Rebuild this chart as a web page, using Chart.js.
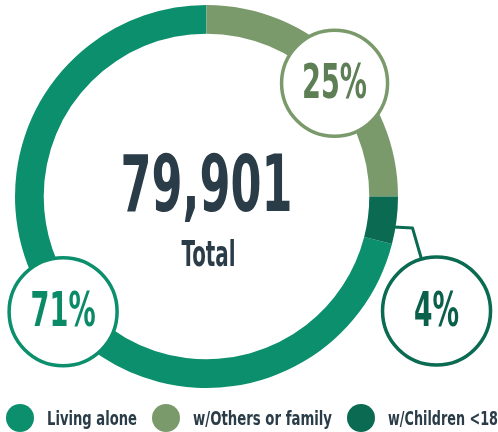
<!DOCTYPE html>
<html>
<head>
<meta charset="utf-8">
<script src="https://cdn.jsdelivr.net/npm/chart.js@4.4.1/dist/chart.umd.min.js"></script>
<style>
    html, body { margin: 0; padding: 0; background: #fff; }
    #wrap { width: 498px; height: 432px; }
</style>
</head>
<body>
<div id="wrap"><canvas id="chart" width="498" height="432"></canvas></div>
<script>
// household breakdown
const labels = ["Living alone", "w/Others or family", "w/Children <18"];
const shares = [71, 25, 4];
const totalPeople = 79901;
const totalLabel = "Total";

const ringColors = ["#0c8f6c", "#7b9a6b", "#0a6a52"];
const bubbleText = ["#0b8a68", "#5e7e55", "#0a604a"];
const INK = "#2a3c47";
const NARROW = "'Liberation Sans Narrow', 'DejaVu Sans Condensed', 'Roboto', sans-serif";

const sum = shares.reduce((a, b) => a + b, 0);

// bubble placement relative to each arc (angle nudge in degrees)
const bubbleSpec = [
    { dist: 184, nudge: -1, r: 54 },
    { dist: 171, nudge: 3.5, r: 53 },
    { leader: true, nudge: 2, r: 54 },
];

// legend text widths in the picture (the source font is very condensed)
const legendTextW = [90, 139, 110];

function condensedText(ctx, text, x, y, px, targetW) {
    ctx.font = `bold ${px}px ${NARROW}`;
    const w = ctx.measureText(text).width;
    const sx = Math.min(1, targetW / w);
    ctx.save();
    ctx.translate(x, y);
    ctx.scale(sx, 1);
    ctx.fillText(text, 0, 0);
    ctx.restore();
}

const bubbles = {
    id: "bubbles",
    afterDatasetsDraw(chart) {
        const ctx = chart.ctx;
        const arcs = chart.getDatasetMeta(0).data;
        arcs.forEach((arc, i) => {
            const p = arc.getProps(["x", "y", "startAngle", "endAngle", "outerRadius"], true);
            const spec = bubbleSpec[i];
            const mid = (p.startAngle + p.endAngle) / 2 + spec.nudge * Math.PI / 180;
            let cx, cy;
            ctx.save();
            if (spec.leader) {
                const ax = p.x + p.outerRadius * Math.cos(mid);
                const ay = p.y + p.outerRadius * Math.sin(mid);
                const kx = ax + 17, ky = ay + 1;
                cx = ax + 41; cy = ay + 84;
                const d = Math.hypot(kx - cx, ky - cy);
                ctx.beginPath();
                ctx.moveTo(ax - 2, ay);
                ctx.lineTo(kx, ky);
                ctx.lineTo(cx + (kx - cx) / d * spec.r, cy + (ky - cy) / d * spec.r);
                ctx.strokeStyle = ringColors[i];
                ctx.lineWidth = 3;
                ctx.lineJoin = "round";
                ctx.stroke();
            } else {
                cx = p.x + spec.dist * Math.cos(mid);
                cy = p.y + spec.dist * Math.sin(mid);
            }
            ctx.beginPath();
            ctx.arc(cx, cy, spec.r, 0, Math.PI * 2);
            ctx.fillStyle = "#fff";
            ctx.fill();
            ctx.lineWidth = 3.5;
            ctx.strokeStyle = ringColors[i];
            ctx.stroke();

            const pct = Math.round(shares[i] / sum * 100) + "%";
            ctx.fillStyle = bubbleText[i];
            ctx.textAlign = "left";
            ctx.textBaseline = "middle";
            const tw = pct.length === 2 ? 45 : 65;
            condensedText(ctx, pct, cx - tw / 2, cy + 2, 48, tw);
            ctx.restore();
        });
    }
};

const centerText = {
    id: "centerText",
    afterDraw(chart) {
        const ctx = chart.ctx;
        const arc = chart.getDatasetMeta(0).data[0];
        const x = arc.x, y = arc.y;
        ctx.save();
        ctx.fillStyle = INK;
        ctx.textAlign = "left";
        ctx.textBaseline = "alphabetic";
        condensedText(ctx, totalPeople.toLocaleString("en-US"), x - 86, y + 14, 79, 172);
        condensedText(ctx, totalLabel, x - 25, y + 69, 35, 54);
        ctx.restore();
    }
};

// dot + condensed label row along the bottom
const dotLegend = {
    id: "dotLegend",
    afterDraw(chart) {
        const ctx = chart.ctx;
        const y = 418;
        let x = 20;
        ctx.save();
        ctx.textAlign = "left";
        ctx.textBaseline = "alphabetic";
        labels.forEach((name, i) => {
            ctx.beginPath();
            ctx.arc(x, y, 14, 0, Math.PI * 2);
            ctx.fillStyle = ringColors[i];
            ctx.fill();
            ctx.fillStyle = INK;
            condensedText(ctx, name, x + 27, y + 7, 20, legendTextW[i]);
            x += 27 + legendTextW[i] + 29;
        });
        ctx.restore();
    }
};

new Chart(document.getElementById("chart"), {
    type: "doughnut",
    data: {
        labels,
        datasets: [{
            data: shares,
            backgroundColor: ringColors,
            borderWidth: 0,
            hoverOffset: 0,
        }]
    },
    options: {
        responsive: false,
        animation: false,
        cutout: "85%",
        rotation: 360 * (1 - shares[0] / sum),
        layout: { padding: { left: 15, top: 5, right: 100, bottom: 44 } },
        plugins: {
            tooltip: { enabled: false },
            legend: { display: false }
        }
    },
    plugins: [bubbles, centerText, dotLegend]
});
</script>
</body>
</html>
